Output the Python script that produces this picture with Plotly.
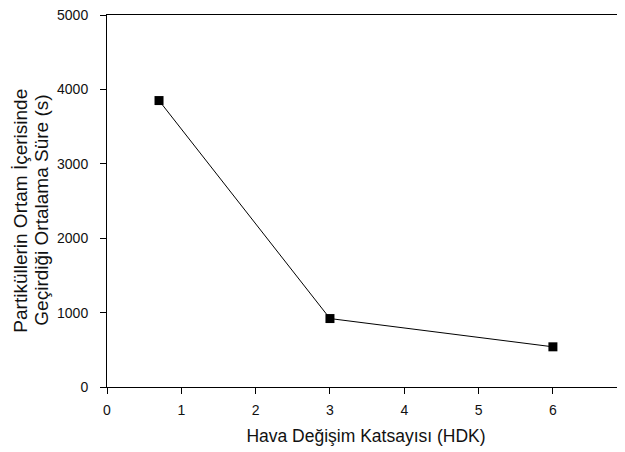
import plotly.graph_objects as go

hdk = [0.7, 3, 6]
sure = [3850, 920, 540]
x_ticks = [0, 1, 2, 3, 4, 5, 6, 7]
y_ticks = [0, 1000, 2000, 3000, 4000, 5000]
y_title_lines = ["Partiküllerin Ortam İçerisinde", "Geçirdiği Ortalama Süre (s)"]
x_title = "Hava Değişim Katsayısı (HDK)"

fig = go.Figure(go.Scatter(
    x=hdk, y=sure, mode="lines+markers",
    line=dict(color="black", width=1),
    marker=dict(symbol="square", size=9, color="black"),
))

font = dict(family="Liberation Sans, Arial, sans-serif", color="#111")
fig.update_layout(
    width=617, height=444,
    margin=dict(l=99, r=0, t=7, b=65, autoexpand=False),
    plot_bgcolor="white", paper_bgcolor="white",
    showlegend=False, font=font,
)
fig.update_xaxes(
    range=[0, 6.97], tickvals=x_ticks, ticks="outside", ticklen=6,
    tickcolor="black", showline=True, linecolor="black", linewidth=1,
    mirror=True, showgrid=False, zeroline=False,
    tickfont=dict(size=14), ticklabelstandoff=4,
    title=dict(text=x_title, font=dict(size=17.5), standoff=12),
)
fig.update_yaxes(
    range=[0, 5000], tickvals=y_ticks, ticks="outside", ticklen=6,
    tickcolor="black", showline=True, linecolor="black", linewidth=1,
    showgrid=False, zeroline=False, ticklabeloverflow="allow",
    tickfont=dict(size=14), ticklabelstandoff=9,
)
for line, xs in zip(y_title_lines, [-86, -65]):
    fig.add_annotation(
        text=line, xref="paper", yref="paper", x=0, y=0.474,
        xanchor="center", yanchor="middle", xshift=xs,
        textangle=-90, showarrow=False, font=dict(size=19),
    )

fig.write_html("out.html")
